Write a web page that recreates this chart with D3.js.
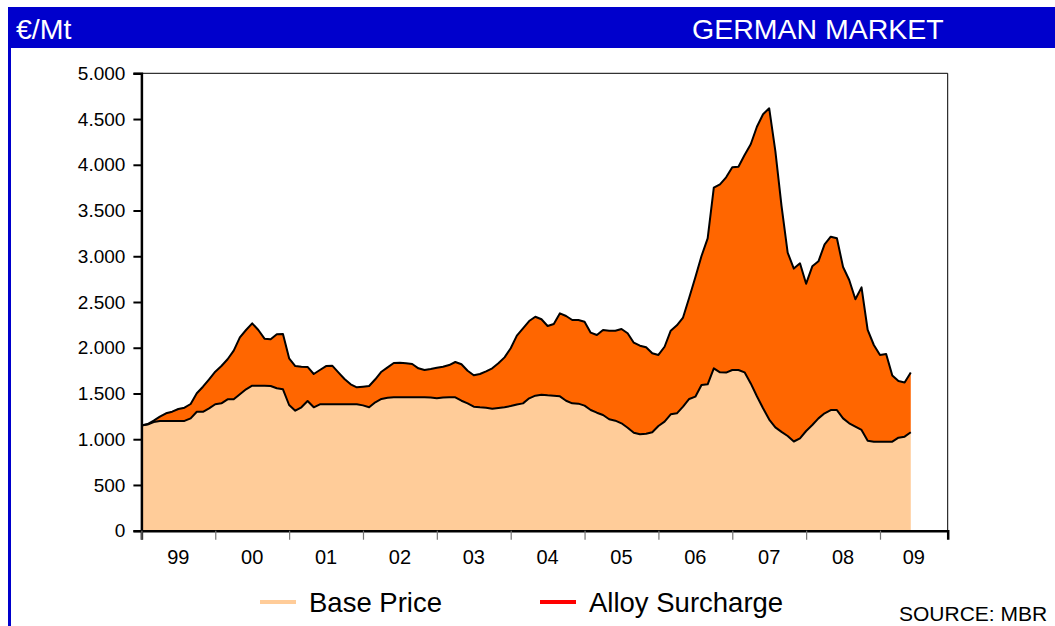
<!DOCTYPE html>
<html>
<head>
<meta charset="utf-8">
<script src="https://cdn.jsdelivr.net/npm/d3@7"></script>
<style>
  body { margin: 0; background: #fff; }
  svg { display: block; font-family: "Liberation Sans", Arial, sans-serif; }
</style>
</head>
<body>
<svg width="1055" height="626"></svg>
<script>
// Monthly data, Jan 1999 - Jun 2009 (EUR per metric tonne)
let yearLabels = ['99', '00', '01', '02', '03', '04', '05', '06', '07', '08', '09'];

let basePrice = [
  1150, 1160, 1188, 1200, 1200, 1200, 1200, 1200, 1228, 1300, 1300, 1338,
  1382, 1392, 1436, 1436, 1491, 1546, 1585, 1585, 1585, 1582, 1557, 1546,
  1374, 1312, 1349, 1418, 1349, 1382, 1382, 1382, 1382, 1382, 1382, 1382,
  1370, 1349, 1404, 1440, 1454, 1458, 1458, 1458, 1458, 1458, 1458, 1455,
  1447, 1455, 1458, 1458, 1421, 1392, 1356, 1349, 1345, 1334, 1342, 1349,
  1363, 1380, 1392, 1447, 1476, 1487, 1480, 1476, 1469, 1421, 1392, 1389,
  1367, 1319, 1290, 1265, 1218, 1203, 1174, 1126, 1071, 1054, 1060, 1076,
  1145, 1192, 1272, 1283, 1356, 1440, 1465, 1593, 1600, 1775, 1731, 1728,
  1757, 1757, 1731, 1610, 1470, 1338, 1215, 1130, 1080, 1035, 975, 1010,
  1090, 1155, 1228, 1283, 1319, 1319, 1228, 1174, 1137, 1101, 984, 973,
  973, 973, 973, 1017, 1028, 1076
];

let alloySurcharge = [
  0, 6, 15, 46, 83, 101, 130, 145, 157, 202, 274, 317,
  356, 408, 438, 532, 623, 648, 682, 609, 514, 510, 590, 604,
  511, 488, 444, 372, 364, 375, 418, 422, 349, 276, 218, 185,
  204, 233, 251, 298, 332, 375, 379, 372, 364, 317, 299, 313,
  335, 338, 353, 386, 398, 357, 343, 364, 397, 441, 488, 546,
  631, 753, 820, 845, 863, 824, 758, 784, 907, 926, 911, 914,
  918, 846, 849, 929, 968, 983, 1031, 1032, 984, 968, 945, 863,
  776, 819, 914, 962, 974, 1106, 1305, 1410, 1596, 1975, 2055, 2135,
  2215, 2222, 2376, 2614, 2946, 3214, 3402, 3020, 2470, 2005, 1890, 1913,
  1610, 1735, 1717, 1847, 1895, 1877, 1655, 1566, 1393, 1559, 1210, 1057,
  948, 959, 724, 619, 592, 654
];

let yTicks = [0, 500, 1000, 1500, 2000, 2500, 3000, 3500, 4000, 4500, 5000];

let data = basePrice.map((b, i) => ({ i: i, base: b, alloy: alloySurcharge[i] }));

let svg = d3.select('svg');

let margin = { left: 141.4, right: 947.7, top: 73.3, bottom: 530.7 };

// Frame: blue header bar and left border
svg.append('rect')
  .attr('x', 8).attr('y', 7)
  .attr('width', 1047).attr('height', 41)
  .attr('fill', '#0000cc');

svg.append('rect')
  .attr('x', 8).attr('y', 7)
  .attr('width', 3).attr('height', 619)
  .attr('fill', '#0000cc');

svg.append('text')
  .text('€/Mt')
  .attr('x', 16).attr('y', 39)
  .attr('fill', '#fff')
  .style('font-size', '28.5px');

svg.append('text')
  .text('GERMAN MARKET')
  .attr('x', 692).attr('y', 39)
  .attr('fill', '#fff')
  .style('font-size', '28.5px');

// Scales
let x = d3.scaleLinear()
  .domain([0, 131])
  .range([margin.left, margin.right]);

let y = d3.scaleLinear()
  .domain([0, 5000])
  .range([margin.bottom, margin.top]);

let fmt = d3.formatLocale({ decimal: ',', thousands: '.', grouping: [3], currency: ['', '€'] }).format(',');

// Stacked areas
let stack = d3.stack().keys(['base', 'alloy'])(data);
let colors = { base: '#ffcc99', alloy: '#ff6600' };

let area = d3.area()
  .x(d => x(d.data.i))
  .y0(d => y(d[0]))
  .y1(d => y(d[1]));

svg.append('g')
  .selectAll('path')
  .data(stack)
  .enter()
  .append('path')
  .attr('d', area)
  .attr('fill', d => colors[d.key]);

let topLine = d3.line()
  .x(d => x(d.data.i))
  .y(d => y(d[1]));

svg.append('g')
  .selectAll('path')
  .data(stack)
  .enter()
  .append('path')
  .attr('d', topLine)
  .attr('fill', 'none')
  .attr('stroke', '#000')
  .attr('stroke-width', 2)
  .attr('stroke-linejoin', 'round');

// Plot frame (top and right)
svg.append('path')
  .attr('d', `M${margin.left},${margin.top}H${margin.right}V${margin.bottom}`)
  .attr('fill', 'none')
  .attr('stroke', '#000')
  .attr('stroke-width', 1);

// Y axis
let yAxis = svg.append('g')
  .attr('transform', `translate(${margin.left},0)`)
  .call(d3.axisLeft(y).tickValues(yTicks).tickFormat(fmt).tickSize(8).tickPadding(8));

yAxis.select('.domain').attr('stroke-width', 2.5);
yAxis.selectAll('.tick line').attr('stroke-width', 2);
yAxis.selectAll('text')
  .style('font-size', '19px')
  .style('font-family', '"Liberation Sans", Arial, sans-serif')
  .attr('fill', '#000');

// X axis: year ticks every 12 months, labels centred in each year
let xAxis = svg.append('g')
  .attr('transform', `translate(0,${margin.bottom})`)
  .call(d3.axisBottom(x)
    .tickValues(d3.range(0, 121, 12))
    .tickSize(9)
    .tickFormat(''));

xAxis.select('.domain').attr('stroke-width', 2.5);
xAxis.selectAll('.tick line').attr('stroke', '#777').attr('stroke-width', 1.2);

svg.append('g')
  .selectAll('text')
  .data(yearLabels)
  .enter()
  .append('text')
  .text(d => d)
  .attr('x', (d, k) => x((k * 12 + Math.min(k * 12 + 12, 131)) / 2))
  .attr('y', 564)
  .attr('text-anchor', 'middle')
  .style('font-size', '20px');

// Legend
let legendItems = [
  { name: 'Base Price', color: '#ffcc99', x: 260 },
  { name: 'Alloy Surcharge', color: '#ff0000', x: 540 }
];

let legend = svg.append('g').attr('class', 'legend');

legend.selectAll('line')
  .data(legendItems)
  .enter()
  .append('line')
  .attr('x1', d => d.x).attr('x2', d => d.x + 36)
  .attr('y1', 602).attr('y2', 602)
  .attr('stroke', d => d.color)
  .attr('stroke-width', 4);

legend.selectAll('text')
  .data(legendItems)
  .enter()
  .append('text')
  .text(d => d.name)
  .attr('x', d => d.x + 49)
  .attr('y', 612)
  .style('font-size', '27.5px');

svg.append('text')
  .text('SOURCE: MBR')
  .attr('x', 899).attr('y', 621)
  .style('font-size', '21px');
</script>
</body>
</html>
